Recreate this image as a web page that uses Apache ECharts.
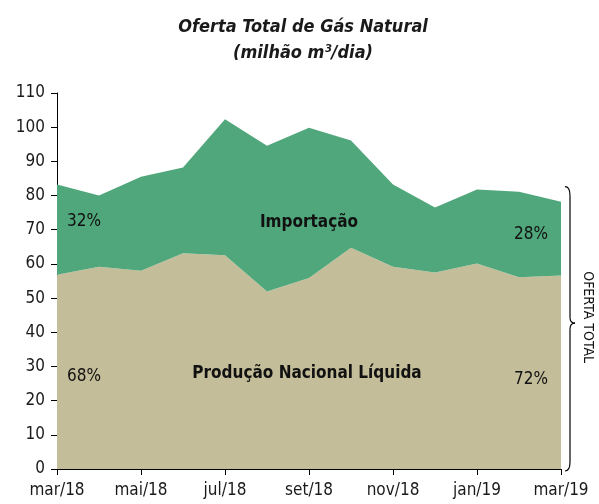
<!DOCTYPE html>
<html><head><meta charset="utf-8">
<script src="https://cdn.jsdelivr.net/npm/echarts@6/dist/echarts.min.js"></script>
<style>html,body{margin:0;padding:0;background:#fff}#c{width:599px;height:504px}</style>
</head><body><div id="c"></div>
<script>
var categories = ['mar/18','abr/18','mai/18','jun/18','jul/18','ago/18','set/18','out/18','nov/18','dez/18','jan/19','fev/19','mar/19'];
var producao = [56.8, 59.2, 58.0, 63.1, 62.5, 51.9, 55.9, 64.7, 59.2, 57.5, 60.1, 56.1, 56.6];
var total = [83.2, 80.0, 85.5, 88.2, 102.3, 94.6, 99.8, 96.1, 83.2, 76.5, 81.8, 81.1, 78.2];
var importacao = total.map(function(t, i){ return +(t - producao[i]).toFixed(1); });
var yTicks = [0,10,20,30,40,50,60,70,80,90,100,110];
var shareLabels = ['32%', '68%', '28%', '72%'];
var FONT = "'Liberation Sans Narrow','DejaVu Sans Condensed',sans-serif";

(function(){
var chart = echarts.init(document.getElementById('c'));
chart.setOption({
  animation: false,
  title: {
    text: 'Oferta Total de Gás Natural\n(milhão m³/dia)',
    left: 298, top: 9, textAlign: 'center',
    textStyle: {fontFamily: FONT, fontSize: 18, fontWeight: 'bold', fontStyle: 'italic', color: '#1a1a1a', lineHeight: 26}
  },
  grid: {left: 57, right: 38, top: 93, bottom: 35},
  xAxis: {
    type: 'category', data: categories, boundaryGap: false,
    axisLine: {lineStyle: {color: '#000', width: 1}},
    axisTick: {show: true, interval: 1, length: 6, lineStyle: {color: '#000'}},
    axisLabel: {interval: 1, fontFamily: FONT, fontSize: 17, color: '#1a1a1a', margin: 13},
    splitLine: {show: false}
  },
  yAxis: {
    type: 'value', min: 0, max: 110, interval: 10,
    axisLine: {show: true, lineStyle: {color: '#000', width: 1}},
    axisTick: {show: true, length: 6, lineStyle: {color: '#000'}},
    axisLabel: {fontFamily: FONT, fontSize: 17, color: '#1a1a1a', margin: 12,
      formatter: function(v){ return yTicks.indexOf(v) >= 0 ? String(v) : ''; }},
    splitLine: {show: false}
  },
  series: [
    {name: 'Produção Nacional Líquida', type: 'line', stack: 'a', data: producao, symbol: 'none',
     lineStyle: {width: 0}, areaStyle: {color: '#C4BD99', opacity: 1}, z: 1},
    {name: 'Importação', type: 'line', stack: 'a', data: importacao, symbol: 'none',
     lineStyle: {width: 0}, areaStyle: {color: '#50A77B', opacity: 1}, z: 1}
  ]
});

var p = function(i, v){ return chart.convertToPixel({gridIndex: 0}, [i, v]); };
var labels = [
  {t: shareLabels[0], i: 0, v: 72.4, dx: 10, w: 'normal', align: 'left'},
  {t: shareLabels[1], i: 0, v: 26.9, dx: 10, w: 'normal', align: 'left'},
  {t: shareLabels[2], i: 12, v: 68.7, dx: -13, w: 'normal', align: 'right'},
  {t: shareLabels[3], i: 12, v: 26.3, dx: -13, w: 'normal', align: 'right'},
  {t: 'Importação', i: 6, v: 72.0, dx: 0, w: 'bold', align: 'center'},
  {t: 'Produção Nacional Líquida', i: 6, v: 27.8, dx: -2, w: 'bold', align: 'center'}
];
var g = labels.map(function(l){
  var q = p(l.i, l.v);
  return {type: 'text', x: q[0] + l.dx, y: q[1], z: 10,
    style: {text: l.t, fontFamily: FONT, fontSize: 17, fontWeight: l.w, fill: '#111', align: l.align, verticalAlign: 'middle'}};
});
var yTop = p(12, total[12])[1] - 15, yBot = p(12, 0)[1] + 2, yMid = yTop + 0.48 * (yBot - yTop);
var x0 = p(12, 0)[0] + 4, xs = x0 + 5, xt = x0 + 10;
function bs(){ return {stroke: '#000', fill: null, lineWidth: 1.2}; }
g.push({type: 'bezierCurve', z: 10, shape: {x1: x0, y1: yTop, cpx1: xs, cpy1: yTop, x2: xs, y2: yTop + 9}, style: bs()});
g.push({type: 'line', z: 10, shape: {x1: xs, y1: yTop + 9, x2: xs, y2: yMid - 6}, style: bs()});
g.push({type: 'bezierCurve', z: 10, shape: {x1: xs, y1: yMid - 6, cpx1: xs, cpy1: yMid, x2: xt, y2: yMid}, style: bs()});
g.push({type: 'bezierCurve', z: 10, shape: {x1: xt, y1: yMid, cpx1: xs, cpy1: yMid, x2: xs, y2: yMid + 6}, style: bs()});
g.push({type: 'line', z: 10, shape: {x1: xs, y1: yMid + 6, x2: xs, y2: yBot - 9}, style: bs()});
g.push({type: 'bezierCurve', z: 10, shape: {x1: xs, y1: yBot - 9, cpx1: xs, cpy1: yBot, x2: x0, y2: yBot}, style: bs()});
g.push({type: 'text', x: x0 + 23, y: yMid - 6, rotation: -Math.PI/2, z: 10,
  style: {text: 'OFERTA TOTAL', fontFamily: FONT, fontSize: 14, fill: '#111', align: 'center', verticalAlign: 'middle'}});
chart.setOption({graphic: g});
})();
</script></body></html>
